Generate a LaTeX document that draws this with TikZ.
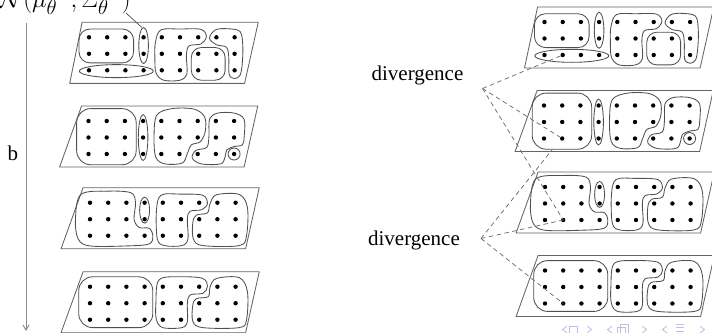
\documentclass[tikz,border=0pt]{standalone}
\usepackage{fontspec}
\setmainfont{Liberation Serif}
\usetikzlibrary{arrows.meta}

\definecolor{framegray}{RGB}{100,100,100}
\definecolor{blobgray}{RGB}{80,80,80}
\definecolor{dashgray}{RGB}{110,110,110}
\definecolor{navblue}{RGB}{185,192,225}

\tikzset{
  frame/.style={draw=framegray, line width=0.85pt, line join=round},
  blob/.style={draw=blobgray, line width=0.85pt},
  divline/.style={draw=dashgray, line width=0.75pt, dash pattern=on 4.5pt off 3.5pt},
  lab/.style={font=\fontsize{21}{25}\selectfont, inner sep=0pt},
  nav/.style={draw=navblue, line width=0.8pt, line join=round},
}

% one sheet: slanted frame and a 9x3 grid of points
% #1 = name prefix, #2 = x of the lower left corner (grid units)
\newcommand{\sheet}[2]{%
  \draw[frame] (-0.38,-0.91) -- (9.3,-0.91) -- (8.55,2.79) -- (#2,2.79) -- cycle;
  \foreach \i in {0,...,8}{\foreach \j in {0,1,2}{%
    \fill (\i,\j) circle (2.2pt);
    \coordinate (#1-\i-\j) at (\i,\j);}}%
}

% clustering of the first sheet
\newcommand{\clusterone}{%
  \draw[blob, rounded corners=11pt] (-0.55,-0.5) rectangle (2.45,1.55);
  \draw[blob] (3,0.5) ellipse [x radius=4.8pt, y radius=18pt];
  \draw[blob] (1.5,2.05) ellipse [x radius=37pt, y radius=6.5pt];
  \draw[blob] plot[smooth cycle, tension=0.55] coordinates {(3.65,0.3) (3.95,-0.45) (5.0,-0.5) (6.15,-0.48) (6.45,-0.05) (6.15,0.4) (5.5,0.52) (5.35,1.1) (5.38,2.2) (5.0,2.6) (4.1,2.6) (3.68,2.15) (3.62,1.2)};
  \draw[blob, rounded corners=10pt] (5.62,0.62) rectangle (7.48,2.6);
  \draw[blob] plot[smooth cycle, tension=0.55] coordinates {(6.62,0.05) (6.95,-0.45) (7.6,-0.52) (8.3,-0.35) (8.45,0.5) (8.42,1.6) (8.3,2.3) (8.0,2.5) (7.7,2.25) (7.68,1.2) (7.55,0.6) (7.0,0.45)};
}

% clustering of the second sheet
\newcommand{\clustertwo}[1]{%
  \draw[blob, rounded corners=14pt] (-0.65,-0.75) rectangle (2.62,2.65);
  \draw[blob] (3,1) ellipse [x radius=4.8pt, y radius=23pt];
  \draw[blob] plot[smooth cycle, tension=0.55] coordinates {(3.6,1.0) (3.75,-0.35) (4.6,-0.75) (5.8,-0.72) (6.38,-0.25) (6.42,0.6) (6.15,1.25) (5.65,1.45) (5.42,2.0) (5.15,2.55) (4.2,2.6) (3.7,2.2)};
  \draw[blob] plot[smooth cycle, tension=0.55] coordinates {(6.62,0.9) (6.65,-0.1) (7.1,-0.48) (8.0,-0.48) (8.55,-0.1) (8.55,1.0) (8.45,1.45) (8.0,1.55) (7.6,1.75) (7.5,2.2) (7.25,2.6) (6.2,2.6) (5.7,2.25) (5.9,1.78) (6.5,1.6)};
  \draw[blob] (8,2) circle (6pt);
  \coordinate (#1-abot) at (0.45,2.68);
}

% clustering of the third sheet
\newcommand{\clusterthree}{%
  \draw[blob] plot[smooth cycle, tension=0.55] coordinates {(-0.8,1.0) (-0.5,-0.5) (1.0,-0.7) (2.25,-0.6) (2.5,0.0) (2.42,1.0) (2.7,1.5) (3.25,1.55) (3.45,2.0) (3.25,2.5) (2.0,2.62) (0.0,2.62) (-0.65,2.2)};
  \draw[blob] (3,0.45) ellipse [x radius=5pt, y radius=13pt];
  \draw[blob] plot[smooth cycle, tension=0.55] coordinates {(3.65,0.5) (3.9,-0.45) (5.0,-0.52) (6.2,-0.45) (6.45,0.05) (6.15,0.42) (5.5,0.52) (5.35,1.0) (5.38,2.2) (5.05,2.6) (4.1,2.6) (3.7,2.2)};
  \draw[blob] plot[smooth cycle, tension=0.55] coordinates {(6.6,0.05) (6.95,-0.48) (8.2,-0.5) (8.65,0.3) (8.6,2.0) (8.2,2.6) (6.2,2.6) (5.68,2.2) (5.65,1.2) (5.85,0.75) (6.45,0.62)};
}

% clustering of the fourth sheet
\newcommand{\clusterfour}{%
  \draw[blob, rounded corners=14pt] (-0.62,-0.6) rectangle (3.45,2.48);
  \draw[blob] plot[smooth cycle, tension=0.55] coordinates {(3.62,1.0) (3.8,-0.42) (5.0,-0.6) (6.2,-0.5) (6.45,0.0) (6.2,0.4) (5.5,0.5) (5.35,1.0) (5.35,2.1) (5.05,2.48) (4.0,2.48) (3.65,2.0)};
  \draw[blob] plot[smooth cycle, tension=0.55] coordinates {(6.6,0.0) (6.95,-0.5) (8.2,-0.55) (8.65,0.3) (8.6,2.0) (8.2,2.48) (6.2,2.48) (5.65,2.1) (5.65,1.1) (5.85,0.72) (6.5,0.6)};
}

\begin{document}
\begin{tikzpicture}[x=1pt,y=-1pt]
\clip (0,0) rectangle (712,332);

% ---- left column: clusterings as b grows ----
\begin{scope}[shift={(89,37.3)},x=18.2pt,y=-16.5pt]
  \sheet{L1}{-1.06}\clusterone
  \coordinate (L1-btop) at (2.9,-0.6);
\end{scope}
\begin{scope}[shift={(88.5,121)},x=18.2pt,y=-16.5pt]
  \sheet{L2}{-1.59}\clustertwo{L2}
\end{scope}
\begin{scope}[shift={(90,202.7)},x=18.2pt,y=-16.5pt]
  \sheet{L3}{-1.59}\clusterthree
\end{scope}
\begin{scope}[shift={(90,286.7)},x=18.2pt,y=-16.5pt]
  \sheet{L4}{-1.59}\clusterfour
\end{scope}

% ---- right column: same clusterings ----
\begin{scope}[shift={(544.5,22)},x=18.2pt,y=-16.5pt]
  \sheet{R1}{-1.1}\clusterone
\end{scope}
\begin{scope}[shift={(544,105.5)},x=18.2pt,y=-16.5pt]
  \sheet{R2}{-1.59}\clustertwo{R2}
\end{scope}
\begin{scope}[shift={(545,187)},x=18.2pt,y=-16.5pt]
  \sheet{R3}{-1.59}\clusterthree
\end{scope}
\begin{scope}[shift={(545,270.5)},x=18.2pt,y=-16.5pt]
  \sheet{R4}{-1.59}\clusterfour
\end{scope}

% ---- distribution label with pointer ----
\node[font=\fontsize{29}{34}\selectfont, anchor=base west, inner sep=0pt] (dist) at (-1,7)
  {$\mathcal{N}(\mu_\theta^{(b)},\Sigma_\theta^{(b)})$};
\coordinate (ptr) at (126,13);
\draw[blob, line width=0.7pt] (ptr) -- (L1-btop);

% ---- parameter axis ----
\coordinate (axtop) at (26,23);
\coordinate (axbot) at (26,331);
\draw[draw=black!45, line width=1pt, -{Straight Barb[length=5pt,width=6pt]}] (axtop) -- (axbot);
\node[lab, anchor=base] (blab) at (13,160) {b};

% ---- divergence comparisons ----
\node[lab, anchor=base] (div1) at (417.5,80) {divergence};
\node[lab, anchor=base] (div2) at (414,245) {divergence};
\coordinate (v1) at (482.5,88.5);
\coordinate (v2) at (481,238.5);
\draw[divline] (v1) -- (R1-1-2);
\draw[divline] (v1) -- (R2-1-2);
\draw[divline] (v1) -- (R3-1-2);
\draw[divline] (v2) -- (R2-abot);
\draw[divline] (v2) -- (R3-1-2);
\draw[divline] (v2) -- (R4-1-2);

% ---- navigation symbols ----
\draw[nav] (567,326) -- (562.5,329.5) -- (567,333);
\draw[nav] (569,326) rectangle (577,334);
\draw[nav] (587,326) -- (591.5,329.5) -- (587,333);
\draw[nav] (612,326) -- (607.5,329.5) -- (612,333);
\draw[nav] (620,324) rectangle (628,334);
\draw[nav] (617,327) rectangle (625,335);
\draw[nav] (642,326) -- (646.5,329.5) -- (642,333);
\draw[nav] (667,326) -- (662.5,329.5) -- (667,333);
\draw[nav] (676,324) -- (684,324) (676,327.5) -- (684,327.5) (676,331) -- (684,331);
\draw[nav] (700,326) -- (704.5,329.5) -- (700,333);
\end{tikzpicture}
\end{document}
